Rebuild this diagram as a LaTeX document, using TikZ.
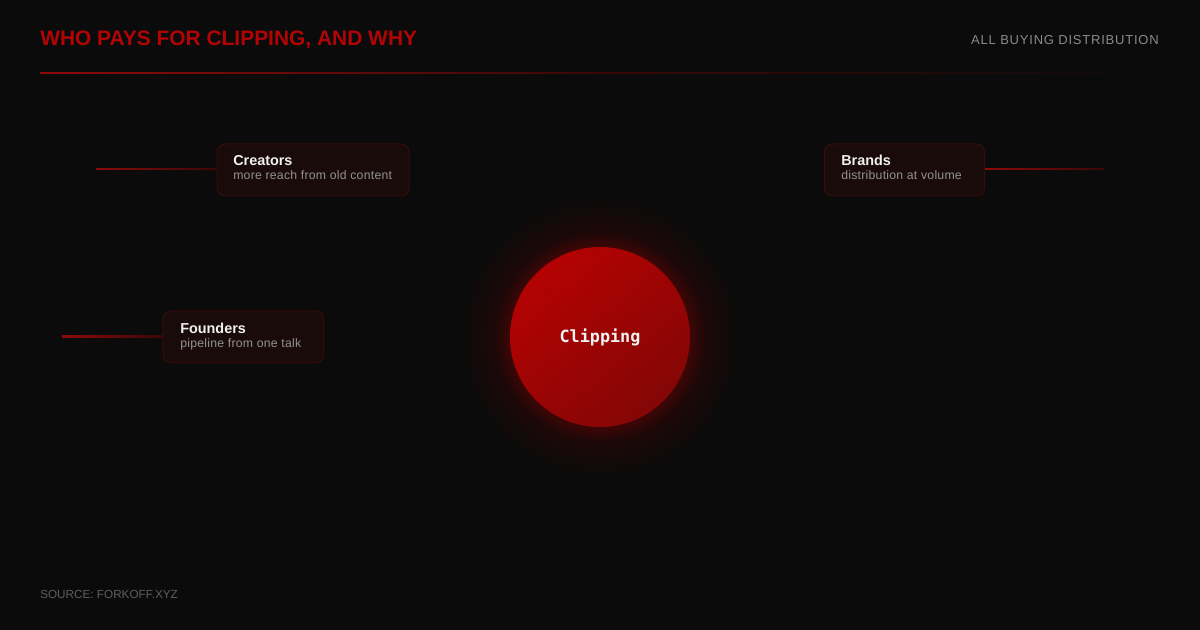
\documentclass[tikz,border=0pt]{standalone}
\usepackage{fontspec}
\setmainfont{Liberation Sans}
\newfontfamily\slabmono{DejaVu Sans Mono}
\usetikzlibrary{shadings}
\definecolor{bg}{HTML}{0B0B0B}
\definecolor{titlered}{HTML}{B20404}
\definecolor{dimgray}{HTML}{8A8A8A}
\definecolor{footgray}{HTML}{5E5E5E}
\definecolor{boxfill}{HTML}{1A0B0B}
\definecolor{boxline}{HTML}{380C0C}
\definecolor{subgray}{HTML}{929292}
\definecolor{linered}{HTML}{8E0A0A}
\definecolor{linedark}{HTML}{3A0808}
\definecolor{glowa}{HTML}{3C0606}
\definecolor{glowb}{HTML}{1D0808}
\definecolor{ctop}{HTML}{B40202}
\definecolor{cbot}{HTML}{840606}
\pgfdeclareradialshading{glowshade}{\pgfpoint{0bp}{0bp}}{color(0bp)=(glowa); color(16bp)=(glowa); color(18.5bp)=(glowb); color(25bp)=(bg); color(50bp)=(bg)}
\tikzset{
  card/.style={draw=boxline, line width=0.75pt, fill=boxfill, rounded corners=6pt, minimum height=39pt, anchor=north west, inner sep=0pt},
  cardtitle/.style={text=white!94!black, font=\fontsize{10.8pt}{12pt}\selectfont\bfseries, anchor=base west, inner sep=0pt},
  cardsub/.style={text=subgray, font=\fontsize{9.2pt}{10pt}\addfontfeatures{LetterSpace=2}\selectfont, anchor=base west, inner sep=0pt},
}
\begin{document}
\begin{tikzpicture}[x=0.75pt,y=-0.75pt]
\fill[bg] (0,0) rectangle (1200,630);
\useasboundingbox (0,0) rectangle (1200,630);
% header
\node[anchor=base west, inner sep=0pt, text=titlered, font=\fontsize{15.7pt}{18pt}\selectfont\bfseries] (title) at (40,46) {WHO PAYS FOR CLIPPING, AND WHY};
\node[anchor=base east, inner sep=0pt, text=dimgray, font=\fontsize{9.75pt}{12pt}\addfontfeatures{LetterSpace=6}\selectfont] (tag) at (1159,44.5) {ALL BUYING DISTRIBUTION};
\shade[left color=linered, right color=bg, middle color=linedark] (40,72.5) rectangle (1168,73.5);
% footer
\node[anchor=base west, inner sep=0pt, text=footgray, font=\fontsize{8.8pt}{10pt}\selectfont] (src) at (40,599) {SOURCE: FORKOFF.XYZ};
% glow and circle
\shade[shading=glowshade] (600,337) circle (142);
\shade[top color=ctop, bottom color=cbot, shading angle=40] (600,337) circle (90);
\node[circle, minimum size=135pt, inner sep=0pt] (hub) at (600,337) {};
\node[text=white!95!black, font=\fontsize{12.6pt}{14pt}\slabmono\bfseries\selectfont, inner sep=0pt] (hublabel) at (600,337) {Clipping};
% cards
\node[card, minimum width=144pt] (creators) at (216.5,143.5) {};
\node[cardtitle] (ct) at (233,166) {Creators};
\node[cardsub] (cs) at (233,179.5) {more reach from old content};
\node[card, minimum width=120pt] (brands) at (824,143.5) {};
\node[cardtitle] (bt) at (841,166) {Brands};
\node[cardsub] (bs) at (841,179.5) {distribution at volume};
\node[card, minimum width=120.5pt] (founders) at (162.5,310.5) {};
\node[cardtitle] (ft) at (180,334) {Founders};
\node[cardsub] (fs) at (180,348) {pipeline from one talk};
% feeder lines
\coordinate (cend) at (96,169);
\coordinate (bend) at (1104,169);
\coordinate (fend) at (62,336.5);
\shade[left color=linered, right color=linedark] (cend |- 0,168.3) rectangle (creators.west |- 0,169.7);
\shade[left color=linered, right color=linedark] (brands.east |- 0,168.3) rectangle (bend |- 0,169.7);
\shade[left color=linered, right color=linedark] (fend |- 0,335.8) rectangle (founders.west |- 0,337.2);
\end{tikzpicture}
\end{document}
